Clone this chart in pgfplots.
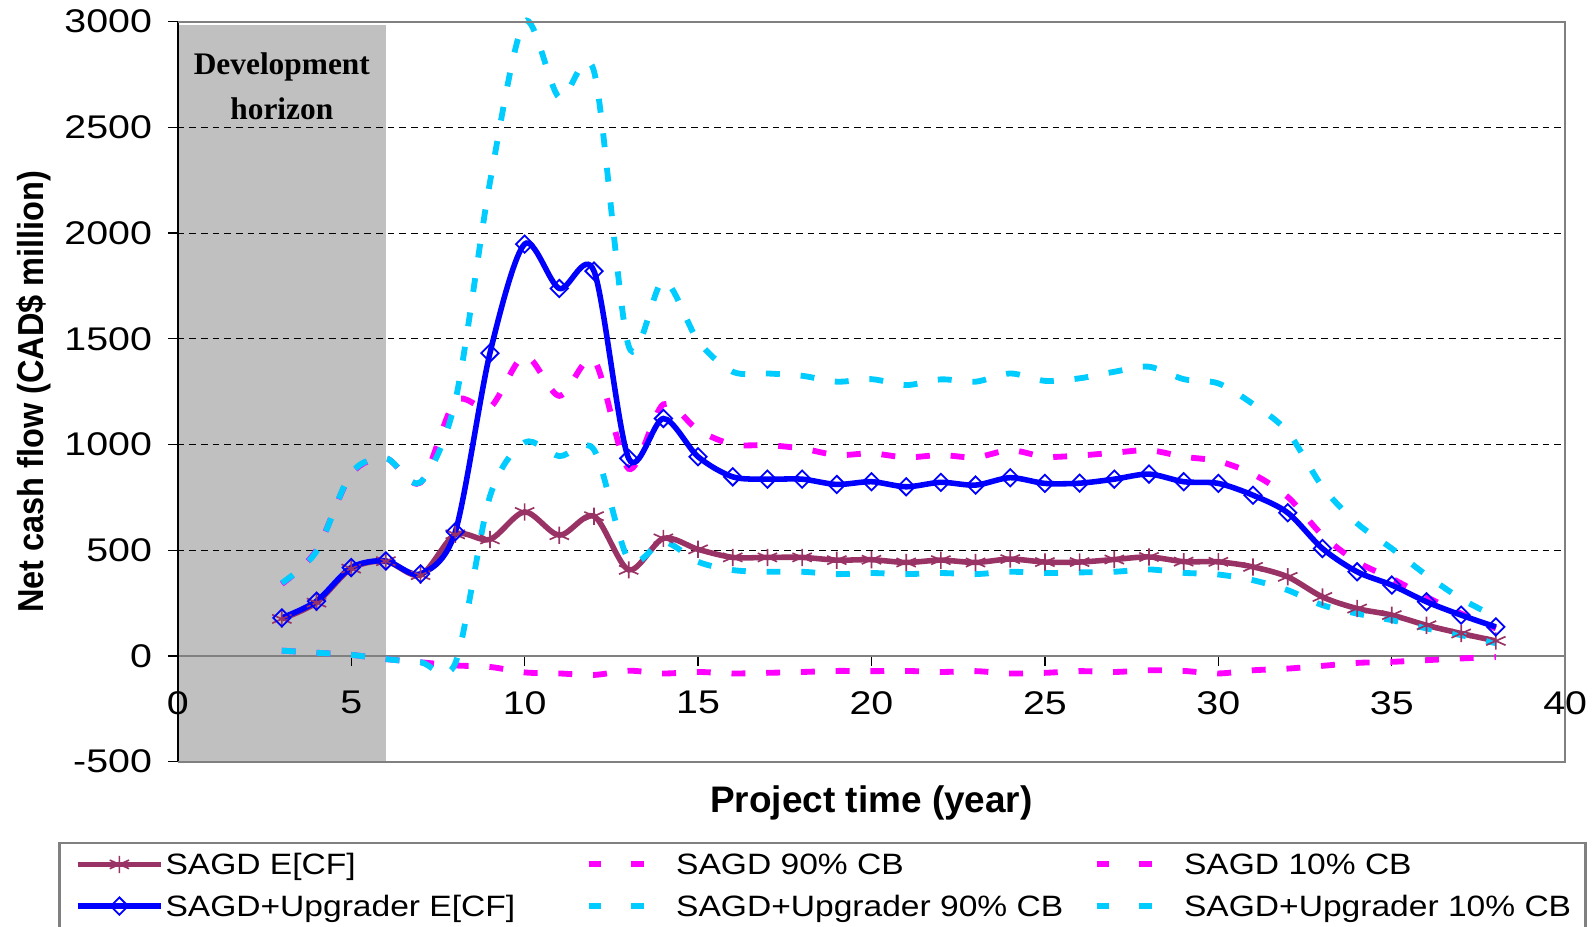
\documentclass[border=0pt]{standalone}
\usepackage{fontspec}
\setmainfont{Liberation Sans}
\newfontfamily\tickfont{Liberation Sans}[FakeStretch=1.2]
\newfontfamily\legfont{Liberation Sans}[FakeStretch=1.14]
\newfontfamily\ylabfont{Liberation Sans}[FakeStretch=0.9]
\newfontfamily\devfont{Liberation Serif}
\usepackage{pgfplots}
\usepackage{pgfplotstable}
\pgfplotsset{compat=1.18}

\definecolor{sagdc}{HTML}{993366}
\definecolor{upgc}{HTML}{0000FF}
\definecolor{magc}{HTML}{FF00FF}
\definecolor{cyanc}{HTML}{00CCFF}
\definecolor{devgray}{HTML}{C0C0C0}
\definecolor{axgray}{HTML}{808080}

% yr: project year; sagd/upg: expected cash flow; s90/s10, u90/u10: confidence bounds
\pgfplotstableread{
yr  sagd  upg   s90   s10   u90   u10
3   175   180   340   25    345   25
4   252   259   500   15    495   15
5   413   418   860   5     865   5
6   448   449   935   -15   935   -15
7   382   388   820   -30   822   -30
8   575   587   1205  -45   1205  -35
9   551   1432  1175  -52   2240  755
10  681   1948  1420  -78   3000  1010
11  571   1738  1230  -83   2640  945
12  661   1820  1400  -90   2765  975
13  407   934   885   -70   1465  455
14  556   1123  1190  -83   1775  540
15  504   942   1068  -76   1490  445
16  466   847   1000  -83   1344  406
17  466   836   997   -80   1336  398
18  466   836   981   -76   1325  398
19  453   811   950   -71   1297  387
20  455   824   958   -72   1309  392
21  442   800   939   -71   1281  387
22  453   821   950   -76   1308  392
23  442   808   939   -72   1297  387
24  458   843   973   -83   1336  398
25  444   816   942   -80   1301  392
26  444   817   948   -72   1313  395
27  456   836   961   -76   1344  398
28  468   860   973   -68   1368  409
29  446   824   942   -71   1309  393
30  445   816   921   -83   1289  385
31  421   760   860   -68   1191  358
32  374   677   752   -60   1060  311
33  279   508   571   -47   800   240
34  224   398   445   -33   627   200
35  193   335   366   -28   508   169
36  145   256   279   -20   382   130
37  106   193   200   -12   270   98
38  71    137   130   -5    185   60
}\cf

\pgfplotsset{
  solidleg/.style={legend image code/.code={%
      \path[draw=none, fill=none] (-6.6pt,0pt) -- (31.6pt,0pt);
      \draw[mark repeat=2,mark phase=2,##1] plot coordinates {(0pt,0pt) (15pt,0pt) (30pt,0pt)};}},
  dashleg/.style={legend image code/.code={%
      \path[draw=none, fill=none] (0pt,0pt) -- (31.5pt,0pt);
      \draw[##1, dash pattern=on 4.4pt off 11pt] (0pt,0pt) -- (19.8pt,0pt);}},
  cbline/.style={line width=2.1pt, smooth, no marks, dash pattern=on 5pt off 7.5pt, dashleg},
}

\begin{document}
\begin{tikzpicture}
\begin{axis}[
  set layers,
  at={(0pt,0pt)}, anchor=south west,
  scale only axis, width=499.5pt, height=266.4pt,
  xmin=0, xmax=40, ymin=-500, ymax=3000,
  enlargelimits=false, clip=false,
  axis x line=middle, axis y line=left,
  x axis line style={draw=axgray, line width=0.7pt, -},
  y axis line style={draw=black, line width=0.8pt, -},
  every inner x axis line/.append style={-},
  every outer y axis line/.append style={-},
  xtick={0,5,...,40}, ytick={-500,0,...,3000},
  hide obscured x ticks=false, hide obscured y ticks=false,
  tick align=outside, major tick length=3.6pt,
  tick style={black, line width=0.5pt},
  ymajorgrids, grid style={black, line width=0.4pt, dash pattern=on 2.4pt off 1.8pt},
  scaled y ticks=false,
  /pgf/number format/assume math mode=true,
  /pgf/number format/1000 sep={},
  tick label style={font=\tickfont\fontsize{11.8}{13}\selectfont},
  xticklabel style={anchor=north, inner sep=0pt},
  yticklabel style={anchor=east, inner sep=0pt},
  xticklabel shift=8.9pt, yticklabel shift=5.5pt,
  xlabel={Project time (year)},
  ylabel={Net cash flow (CAD\$ million)},
  every axis x label/.style={at={(axis description cs:0.5,-0.069)}, anchor=base,
    font=\bfseries\fontsize{13.3}{15}\selectfont},
  every axis y label/.style={at={(axis description cs:-0.0969,0.5)}, rotate=90, anchor=base,
    font=\ylabfont\bfseries\fontsize{13}{15}\selectfont},
  legend columns=3,
  legend style={at={(axis description cs:-0.0861,-0.1081)}, anchor=north west,
    draw=axgray, line width=0.8pt, fill=white,
    inner xsep=0pt, inner ysep=4pt, row sep=7.4pt, column sep=0pt,
    nodes={inner sep=0pt, text height=7.6pt, text depth=0pt,
      font=\legfont\fontsize{10.6}{12}\selectfont},
    cells={anchor=center}},
]
\begin{pgfonlayer}{axis background}
  \fill[devgray] (axis cs:0,-500) rectangle (axis cs:6,2985);
\end{pgfonlayer}

\addplot[color=sagdc, line width=2pt, smooth, mark=asterisk, mark size=3.1pt,
  mark options={solid, xscale=1.3, line width=0.6pt}, solidleg] table[x=yr, y=sagd] {\cf};
\addlegendentry{\makebox[151.3pt][l]{SAGD E[CF]}}
\addplot[color=magc, cbline] table[x=yr, y=s90] {\cf};
\addlegendentry{\makebox[150.3pt][l]{SAGD 90\% CB}}
\addplot[color=magc, cbline] table[x=yr, y=s10] {\cf};
\addlegendentry{\makebox[144.5pt][l]{SAGD 10\% CB}}
\addplot[color=upgc, line width=2pt, smooth, mark=square, mark size=2.2pt,
  mark options={solid, rotate=45, line width=0.65pt}, solidleg] table[x=yr, y=upg] {\cf};
\addlegendentry{\makebox[151.3pt][l]{SAGD+Upgrader E[CF]}}
\addplot[color=cyanc, cbline] table[x=yr, y=u90] {\cf};
\addlegendentry{\makebox[150.3pt][l]{SAGD+Upgrader 90\% CB}}
\addplot[color=cyanc, cbline] table[x=yr, y=u10] {\cf};
\addlegendentry{\makebox[144.5pt][l]{SAGD+Upgrader 10\% CB}}

% plot-area frame
\draw[axgray, line width=0.8pt] (rel axis cs:0,0) -- (rel axis cs:1,0) -- (rel axis cs:1,1) -- (rel axis cs:0,1);

\node[font=\devfont\bfseries\fontsize{11.3}{13}\selectfont, anchor=base] at (axis cs:3,2748) {Development};
\node[font=\devfont\bfseries\fontsize{11.3}{13}\selectfont, anchor=base] at (axis cs:3,2539) {horizon};
\end{axis}
\pgfresetboundingbox
\useasboundingbox (-64pt,-59.2pt) rectangle (509.5pt,274.2pt);
\end{tikzpicture}
\end{document}
